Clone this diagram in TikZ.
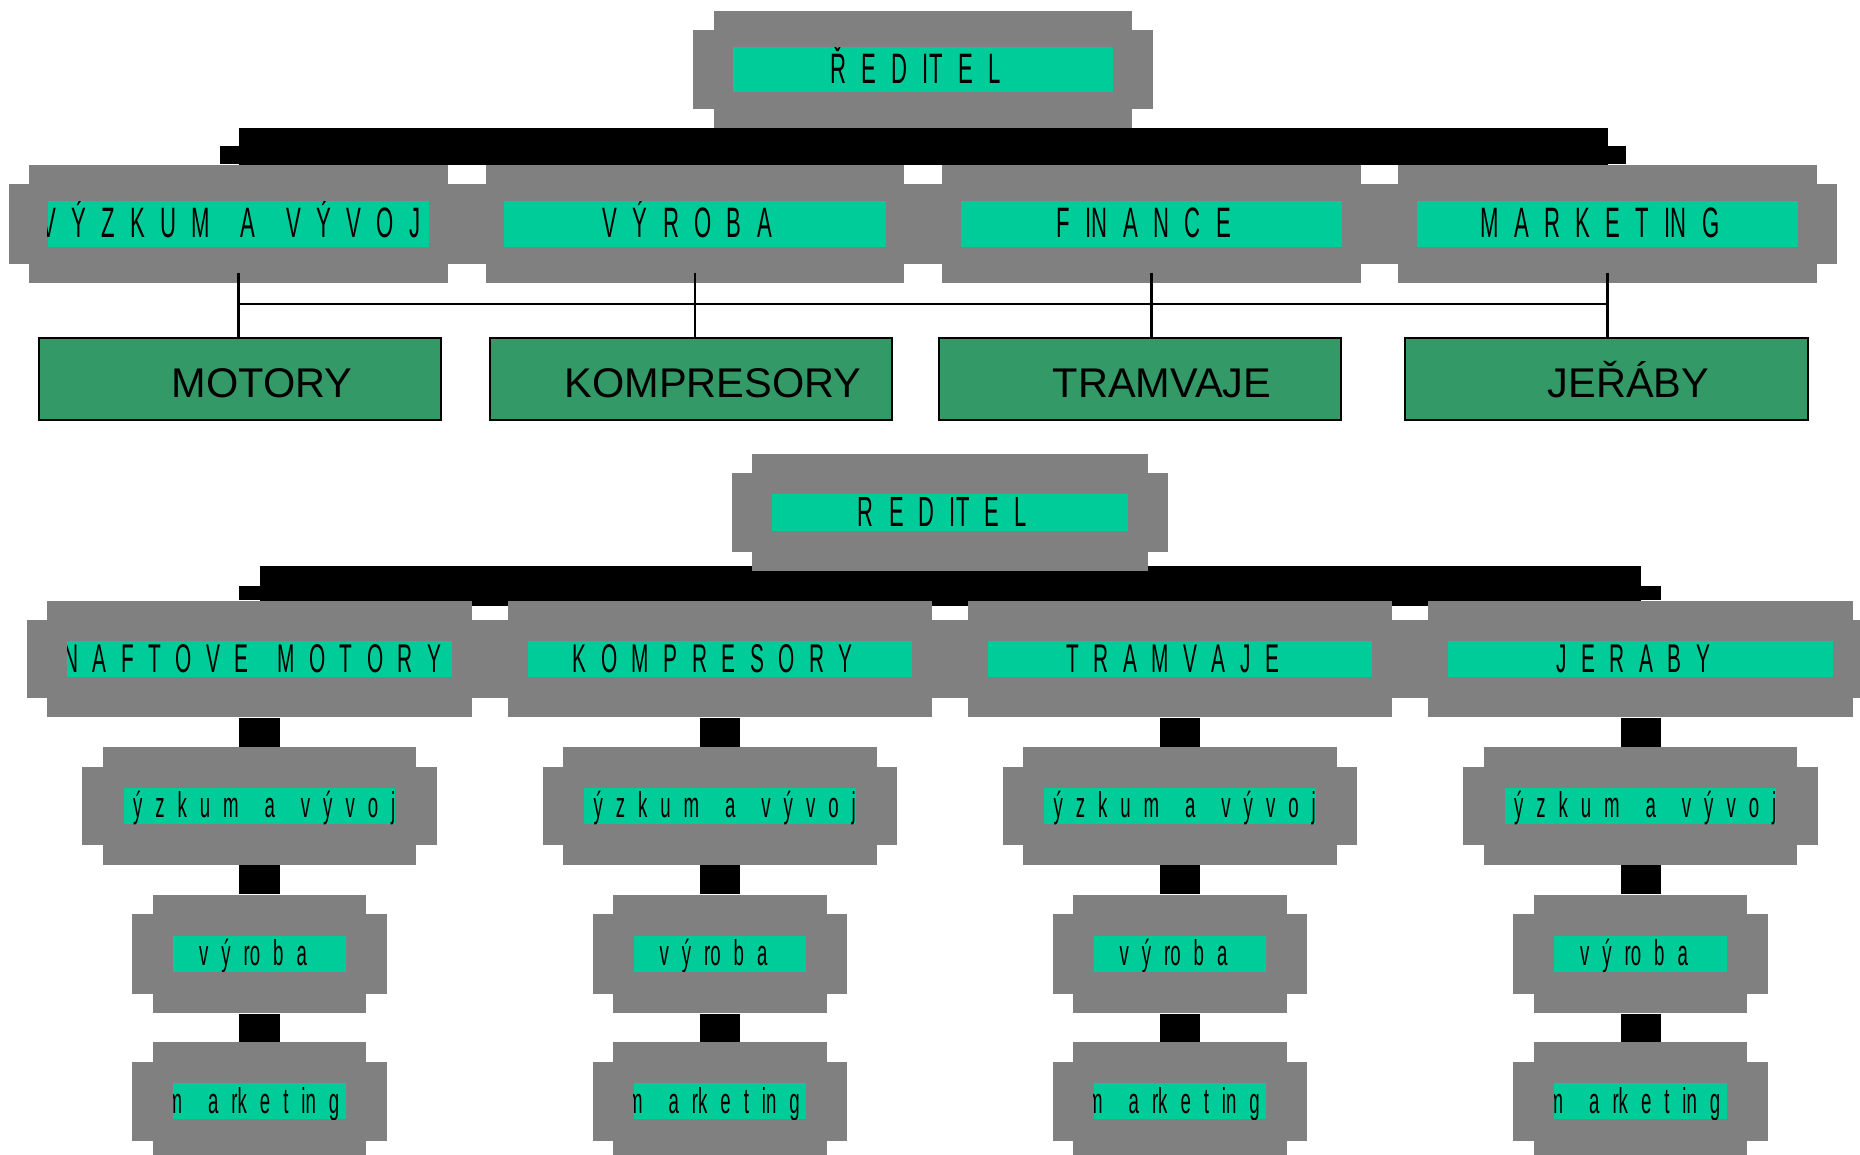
\documentclass[tikz,border=0pt]{standalone}
\usepackage{fontspec}
\setmainfont{Liberation Sans}
\newfontfamily\tagfont[FakeStretch=0.52,WordSpace=2.5]{Liberation Sans}
\usepackage{xcolor}
\usetikzlibrary{positioning,backgrounds}
\definecolor{plategray}{HTML}{808080}
\definecolor{tagteal}{HTML}{00CC99}
\definecolor{unitgreen}{HTML}{339966}

\begin{document}
\begin{tikzpicture}[
  x=0.01cm, y=-0.01cm,
  plate/.style={fill=plategray, inner sep=0pt, minimum width=#1, minimum height=1.17cm,
    append after command={\pgfextra{\fill[plategray] ([xshift=-2mm,yshift=-2mm]\tikzlastnode.north west) rectangle ([xshift=2mm,yshift=2mm]\tikzlastnode.south east);}}},
  tag/.style 2 args={fill=tagteal, inner sep=0pt, minimum height=0.36cm,
    path picture={\pgftext[at=\pgfpointanchor{path picture bounding box}{center}]{\fontsize{#1}{#1}\tagfont\rule[-.3em]{0pt}{1.25em}#2~}}},
  unit/.style={draw, line width=0.6pt, fill=unitgreen, minimum width=4.02cm, minimum height=0.82cm,
    text height=0.36cm, text depth=0pt, font=\fontsize{11.8pt}{14pt}\selectfont,
    execute at begin node={\hspace*{0.44cm}}},
  trunk/.style={line width=#1}, trunk/.default=0.4cm,
  wire/.style={line width=0.6pt}
]
\useasboundingbox (0,0) rectangle (1860,1155);
\clip (0,0) rectangle (1860,1155);

% upper chart
\node[plate=4.18cm] (reditel) at (923,69.5) {};
\node[tag={12.1pt}{Ř E D IT E L}, minimum width=3.80cm, minimum height=0.44cm] (reditelT) at (reditel) {};

\node[plate=4.18cm, minimum height=1.18cm] (vyzkum) at (238.5,224) {};
\node[tag={12.1pt}{V Ý Z K U M~ A~ V Ý V O J}, minimum width=3.81cm, minimum height=0.45cm] (vyzkumT) at (vyzkum) {};
\node[plate=4.18cm, minimum height=1.18cm] (vyroba) at (695,224) {};
\node[tag={12.1pt}{V Ý R O B A}, minimum width=3.81cm, minimum height=0.45cm] (vyrobaT) at (vyroba) {};
\node[plate=4.18cm, minimum height=1.18cm] (finance) at (1151.5,224) {};
\node[tag={12.1pt}{F IN A N C E}, minimum width=3.81cm, minimum height=0.45cm] (financeT) at (finance) {};
\node[plate=4.18cm, minimum height=1.18cm] (marketing) at (1607.5,224) {};
\node[tag={12.1pt}{M A R K E T IN G}, minimum width=3.81cm, minimum height=0.45cm] (marketingT) at (marketing) {};

\node[unit] (motory) at (240,379) {MOTORY};
\node[unit] (kompresory) at (691,379) {KOMPRESORY};
\node[unit] (tramvaje) at (1140,379) {TRAMVAJE};
\node[unit] (jeraby) at (1606.5,379) {JEŘÁBY};

\coordinate (bus) at (0,146.5);
\coordinate (tie) at (0,304);

\draw[wire] ([yshift=1.1mm]vyzkum.south) -- (vyzkum.south |- motory.north);
\draw[wire] ([yshift=1.1mm]vyroba.south) -- (vyroba.south |- kompresory.north);
\draw[wire] ([yshift=1.1mm]finance.south) -- (finance.south |- tramvaje.north);
\draw[wire] ([yshift=1.1mm]marketing.south) -- (marketing.south |- jeraby.north);
\draw[wire] (vyzkum |- tie) -- (marketing |- tie);

% lower chart
\node[plate=3.95cm] (reditel2) at (950,512.5) {};
\node[tag={12pt}{R E D IT E L}, minimum width=3.55cm] (reditel2T) at (reditel2) {};

\node[plate=4.24cm, minimum height=1.16cm] (nmot) at (259.5,659) {};
\node[tag={11.4pt}{N A F T O V E~ M O T O R Y}, minimum width=3.84cm, minimum height=0.35cm] (nmotT) at (nmot) {};
\node[plate=4.24cm, minimum height=1.16cm] (komp) at (720,659) {};
\node[tag={11.4pt}{K O M P R E S O R Y}, minimum width=3.84cm, minimum height=0.35cm] (kompT) at (komp) {};
\node[plate=4.24cm, minimum height=1.16cm] (tram) at (1180,659) {};
\node[tag={11.4pt}{T R A M V A J E}, minimum width=3.84cm, minimum height=0.35cm] (tramT) at (tram) {};
\node[plate=4.24cm, minimum height=1.16cm] (jer) at (1640.5,659) {};
\node[tag={11.4pt}{J E R A B Y}, minimum width=3.84cm, minimum height=0.35cm] (jerT) at (jer) {};

\node[plate=3.13cm, below=0.29cm of nmot] (nmotV) {};
\node[tag={10.2pt}{v ý z k u m~ a~ v ý v o j}, minimum width=2.71cm] (nmotVT) at (nmotV) {};
\node[plate=3.13cm, below=0.29cm of komp] (kompV) {};
\node[tag={10.2pt}{v ý z k u m~ a~ v ý v o j}, minimum width=2.71cm] (kompVT) at (kompV) {};
\node[plate=3.13cm, below=0.29cm of tram] (tramV) {};
\node[tag={10.2pt}{v ý z k u m~ a~ v ý v o j}, minimum width=2.71cm] (tramVT) at (tramV) {};
\node[plate=3.13cm, below=0.29cm of jer] (jerV) {};
\node[tag={10.2pt}{v ý z k u m~ a~ v ý v o j}, minimum width=2.71cm] (jerVT) at (jerV) {};

\node[plate=2.13cm, minimum height=1.18cm, below=0.29cm of nmotV] (nmotP) {};
\node[tag={10.2pt}{v ý ro b a}, minimum width=1.72cm] (nmotPT) at (nmotP) {};
\node[plate=2.13cm, minimum height=1.18cm, below=0.29cm of kompV] (kompP) {};
\node[tag={10.2pt}{v ý ro b a}, minimum width=1.72cm] (kompPT) at (kompP) {};
\node[plate=2.13cm, minimum height=1.18cm, below=0.29cm of tramV] (tramP) {};
\node[tag={10.2pt}{v ý ro b a}, minimum width=1.72cm] (tramPT) at (tramP) {};
\node[plate=2.13cm, minimum height=1.18cm, below=0.29cm of jerV] (jerP) {};
\node[tag={10.2pt}{v ý ro b a}, minimum width=1.72cm] (jerPT) at (jerP) {};

\node[plate=2.13cm, minimum height=1.18cm, below=0.28cm of nmotP] (nmotM) {};
\node[tag={10.2pt}{m~ a rk e t in g}, minimum width=1.72cm] (nmotMT) at (nmotM) {};
\node[plate=2.13cm, minimum height=1.18cm, below=0.28cm of kompP] (kompM) {};
\node[tag={10.2pt}{m~ a rk e t in g}, minimum width=1.72cm] (kompMT) at (kompM) {};
\node[plate=2.13cm, minimum height=1.18cm, below=0.28cm of tramP] (tramM) {};
\node[tag={10.2pt}{m~ a rk e t in g}, minimum width=1.72cm] (tramMT) at (tramM) {};
\node[plate=2.13cm, minimum height=1.18cm, below=0.28cm of jerP] (jerM) {};
\node[tag={10.2pt}{m~ a rk e t in g}, minimum width=1.72cm] (jerMT) at (jerM) {};

\coordinate (bus2) at (0,586);

% thick connectors behind the plates
\begin{scope}[on background layer]
\draw[trunk=0.37cm] (reditel.south) -- (reditel |- bus);
\draw[trunk=0.37cm] (vyzkum |- bus) -- (marketing |- bus);
\draw[trunk=0.37cm] (vyzkum |- bus) -- (vyzkum.north);
\draw[trunk=0.37cm] (vyroba |- bus) -- (vyroba.north);
\draw[trunk=0.37cm] (finance |- bus) -- (finance.north);
\draw[trunk=0.37cm] (marketing |- bus) -- (marketing.north);

\draw[trunk] (reditel2.south) -- (reditel2 |- bus2);
\draw[trunk] (nmot |- bus2) -- (jer |- bus2);
\draw[trunk] (nmot |- bus2) -- (nmot.north);
\draw[trunk] (komp |- bus2) -- (komp.north);
\draw[trunk] (tram |- bus2) -- (tram.north);
\draw[trunk] (jer |- bus2) -- (jer.north);
\draw[trunk] (nmot.south) -- (nmotV.north) (nmotV.south) -- (nmotP.north) (nmotP.south) -- (nmotM.north);
\draw[trunk] (komp.south) -- (kompV.north) (kompV.south) -- (kompP.north) (kompP.south) -- (kompM.north);
\draw[trunk] (tram.south) -- (tramV.north) (tramV.south) -- (tramP.north) (tramP.south) -- (tramM.north);
\draw[trunk] (jer.south) -- (jerV.north) (jerV.south) -- (jerP.north) (jerP.south) -- (jerM.north);
\end{scope}
\end{tikzpicture}
\end{document}
